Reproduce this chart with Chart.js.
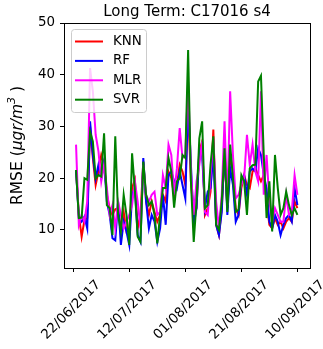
<!DOCTYPE html>
<html>
<head>
<meta charset="utf-8">
<script src="https://cdn.jsdelivr.net/npm/chart.js@4/dist/chart.umd.min.js"></script>
<style>
  html, body { margin: 0; padding: 0; background: #fff; }
  #wrap { width: 323px; height: 349px; }
</style>
</head>
<body>
<div id="wrap"><canvas id="rmseChart" width="323" height="349"></canvas></div>
<script>
// 資料：日數 (從 22/06/2017 起算)
const days = [];
for (let d = 1; d <= 80; d++) days.push(d);

const knn = [21.6, 12.9, 8.7, 11.9, 12.3, 30.0, 23.9, 18.7, 21.3, 24.5,
  22.6, 16.8, 14.2, 12.9, 14.0, 14.2, 10.3, 13.5, 9.7, 10.3,
  18.1, 19.7, 10.3, 12.9, 23.2, 15.5, 12.9, 15.5, 13.5, 11.6,
  12.9, 16.8, 15.5, 21.3, 20.0, 16.8, 18.7, 22.6, 21.3, 18.7,
  33.5, 19.4, 12.9, 14.2, 25.2, 27.1, 12.9, 14.2, 17.4, 29.4,
  11.0, 9.0, 14.2, 24.5, 14.2, 24.5, 21.3, 14.2, 12.9, 18.1,
  20.6, 18.7, 18.1, 21.3, 21.9, 20.6, 19.4, 20.6, 15.5, 11.0,
  10.3, 12.3, 11.0, 11.6, 10.3, 11.6, 12.3, 11.6, 15.5, 14.2];

const rf = [21.6, 12.3, 11.6, 12.6, 10.3, 31.0, 24.5, 20.0, 22.6, 20.0,
  23.2, 15.5, 12.9, 8.4, 8.0, 15.5, 7.1, 11.6, 9.7, 7.1,
  16.8, 18.1, 9.0, 7.7, 23.9, 15.5, 10.3, 12.9, 11.6, 7.7,
  10.3, 16.8, 11.0, 20.6, 21.3, 19.4, 18.1, 21.3, 18.7, 16.1,
  34.8, 22.6, 11.0, 14.2, 25.8, 24.5, 14.2, 17.4, 18.1, 24.5,
  11.0, 9.0, 13.5, 25.8, 12.9, 21.9, 18.7, 11.6, 12.9, 19.4,
  20.6, 16.8, 21.3, 21.9, 21.3, 25.8, 24.5, 20.6, 18.1, 11.6,
  10.3, 12.9, 11.6, 9.0, 11.0, 12.3, 12.9, 11.6, 18.1, 14.8];

const mlr = [26.5, 11.0, 12.9, 11.6, 15.5, 41.3, 36.8, 28.4, 25.2, 19.4,
  22.6, 18.1, 12.9, 14.8, 10.3, 15.5, 12.9, 10.3, 11.6, 12.9,
  14.8, 19.4, 15.5, 10.3, 22.6, 16.8, 15.5, 16.8, 17.4, 12.9,
  13.5, 20.6, 18.1, 26.5, 24.5, 16.8, 21.9, 29.7, 23.9, 24.5,
  38.7, 21.3, 12.9, 19.4, 22.6, 27.1, 13.5, 12.9, 20.6, 27.7,
  15.5, 10.3, 16.8, 31.0, 14.8, 36.8, 24.5, 16.1, 16.8, 18.7,
  20.0, 28.4, 22.6, 26.5, 21.3, 19.4, 36.8, 16.8, 24.5, 15.5,
  11.6, 14.2, 12.9, 11.6, 11.6, 16.8, 12.9, 13.5, 20.6, 16.8];

const svr = [21.6, 12.3, 12.4, 20.0, 19.7, 29.0, 27.1, 20.0, 20.6, 20.3,
  28.7, 14.8, 14.2, 9.0, 28.1, 12.9, 9.7, 16.8, 12.9, 7.1,
  24.8, 17.7, 8.7, 7.7, 23.2, 16.8, 14.8, 15.5, 12.9, 7.4,
  12.9, 18.1, 18.1, 23.9, 21.3, 14.3, 19.4, 20.0, 24.5, 23.9,
  44.8, 19.4, 7.7, 15.5, 27.7, 31.0, 14.2, 14.8, 22.6, 28.1,
  11.0, 10.0, 15.5, 25.8, 13.5, 26.5, 20.0, 13.5, 13.9, 20.6,
  19.4, 12.9, 21.9, 22.5, 22.6, 38.7, 39.8, 24.5, 12.3, 19.4,
  9.7, 24.5, 18.1, 12.9, 14.2, 17.4, 14.8, 12.9, 14.2, 12.9];

// 刻度
const yTicks = [10, 20, 30, 40, 50];
const xTickDays = [0, 20, 40, 60, 80];
const xTickLabels = ['22/06/2017', '12/07/2017', '01/08/2017', '21/08/2017', '10/09/2017'];

const FONT = 'DejaVu Sans';

function toPoints(arr) {
  return days.map((d, i) => ({ x: d, y: arr[i] }));
}

function makeSet(label, arr, color, order) {
  return {
    label: label,
    data: toPoints(arr),
    borderColor: color,
    backgroundColor: color,
    borderWidth: 2,
    pointRadius: 0,
    tension: 0,
    fill: false,
    order: order,
  };
}

// 外框、圖例、x 軸標籤、y 軸標題
const decorPlugin = {
  id: 'decor',
  afterDraw(chart) {
    const ctx = chart.ctx;
    const a = chart.chartArea;

    // 外框
    ctx.save();
    ctx.strokeStyle = '#000';
    ctx.lineWidth = 1;
    ctx.strokeRect(Math.round(a.left) + 0.5, Math.round(a.top) + 0.5,
      Math.round(a.right - a.left), Math.round(a.bottom - a.top));
    ctx.restore();

    // x 軸標籤 (旋轉 45 度，中心對齊刻度)
    const xs = chart.scales.x;
    ctx.save();
    ctx.fillStyle = '#000';
    ctx.font = '13.4px "' + FONT + '"';
    ctx.textAlign = 'center';
    ctx.textBaseline = 'middle';
    xTickDays.forEach((d, i) => {
      const px = xs.getPixelForValue(d);
      ctx.save();
      ctx.translate(px - 2, a.bottom + 42);
      ctx.rotate(-Math.PI / 4);
      ctx.fillText(xTickLabels[i], 0, 0);
      ctx.restore();
    });
    ctx.restore();

    // y 軸標題 RMSE (μgr/m³ )
    ctx.save();
    ctx.fillStyle = '#000';
    ctx.translate(18, (a.top + a.bottom) / 2);
    ctx.rotate(-Math.PI / 2);
    ctx.textBaseline = 'middle';
    ctx.textAlign = 'left';
    const parts = [
      { t: 'RMSE (', f: '15.5px "' + FONT + '"', dy: 0 },
      { t: 'μgr/m', f: 'italic 15.5px "' + FONT + '"', dy: 0 },
      { t: '3', f: 'italic 11px "' + FONT + '"', dy: -6 },
      { t: ' )', f: '15.5px "' + FONT + '"', dy: 0 },
    ];
    let total = 0;
    parts.forEach(p => { ctx.font = p.f; p.w = ctx.measureText(p.t).width; total += p.w; });
    let x = -total / 2;
    parts.forEach(p => {
      ctx.font = p.f;
      ctx.fillText(p.t, x, p.dy);
      x += p.w;
    });
    ctx.restore();

    // 圖例 (左上角，圖內)
    const bx = a.left + 7, by = a.top + 6, bw = 75, bh = 83;
    ctx.save();
    ctx.beginPath();
    ctx.roundRect(bx + 0.5, by + 0.5, bw, bh, 3);
    ctx.fillStyle = 'rgba(255,255,255,0.8)';
    ctx.fill();
    ctx.strokeStyle = '#cccccc';
    ctx.lineWidth = 1;
    ctx.stroke();
    ctx.font = '13.4px "' + FONT + '"';
    ctx.textBaseline = 'middle';
    ctx.textAlign = 'left';
    chart.data.datasets.forEach((ds, i) => {
      const ry = by + 12.5 + i * 19.4;
      ctx.strokeStyle = ds.borderColor;
      ctx.lineWidth = 2;
      ctx.beginPath();
      ctx.moveTo(bx + 4, ry);
      ctx.lineTo(bx + 32, ry);
      ctx.stroke();
      ctx.fillStyle = '#000';
      ctx.fillText(ds.label, bx + 42, ry);
    });
    ctx.restore();
  }
};

const ctx1 = document.getElementById('rmseChart').getContext('2d');
new Chart(ctx1, {
  type: 'line',
  data: {
    datasets: [
      makeSet('KNN', knn, '#ff0000', 4),
      makeSet('RF', rf, '#0000ff', 3),
      makeSet('MLR', mlr, '#ff00ff', 2),
      makeSet('SVR', svr, '#008000', 1),
    ]
  },
  options: {
    responsive: false,
    animation: false,
    layout: { padding: { left: 0, right: 13, top: 0, bottom: 0 } },
    plugins: {
      legend: { display: false },
      tooltip: { enabled: false },
      title: {
        display: true,
        text: 'Long Term: C17016 s4',
        fullSize: false,
        color: '#000',
        font: { family: FONT, size: 15, weight: 'normal', lineHeight: 1.2 },
        padding: { top: 3, bottom: 2 },
      },
    },
    scales: {
      x: {
        type: 'linear',
        min: -3.3,
        max: 84.5,
        afterBuildTicks: (scale) => { scale.ticks = xTickDays.map(v => ({ value: v })); },
        afterFit: (scale) => { scale.height = 81; },
        ticks: { display: false },
        grid: { drawOnChartArea: false, drawTicks: true, tickLength: 4, color: '#000' },
        border: { display: false },
      },
      y: {
        type: 'linear',
        min: 2.65,
        max: 50,
        afterBuildTicks: (scale) => { scale.ticks = yTicks.map(v => ({ value: v })); },
        afterFit: (scale) => { scale.width = 64; },
        ticks: { color: '#000', padding: 5, font: { family: FONT, size: 13.4 } },
        grid: { drawOnChartArea: false, drawTicks: true, tickLength: 4, color: '#000' },
        border: { display: false },
      }
    }
  },
  plugins: [decorPlugin]
});
</script>
</body>
</html>
